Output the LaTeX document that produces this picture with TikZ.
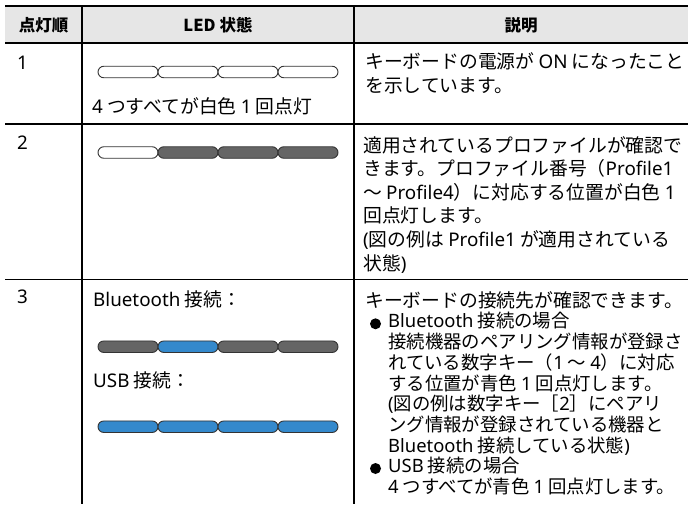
\documentclass[tikz,border=0pt]{standalone}
\usepackage{fontspec}
\setmainfont{Noto Sans CJK JP}
\newfontfamily\latfont{Noto Sans}
\newcommand\la[1]{{\latfont #1}}
\definecolor{headgray}{HTML}{E6E6E6}
\definecolor{ledgray}{HTML}{656565}
\definecolor{ledblue}{HTML}{3489CC}
\definecolor{ledline}{HTML}{333333}
\tikzset{
	rule/.style={line width=1.5pt},
	led/.style={draw=ledline, line width=0.9pt, rounded corners=5.75pt},
	dot/.style={circle, fill=black, inner sep=0pt, minimum size=11pt},
	head/.style={anchor=base, inner sep=0pt, font=\fontsize{16.5}{20}\selectfont\bfseries},
	body/.style={anchor=base west, inner sep=0pt, align=left, font=\fontsize{18.8}{23.6}\selectfont},
	bodyiii/.style={body, font=\fontsize{18.4}{20.74}\selectfont},
}
\begin{document}
\begin{tikzpicture}[x=1pt,y=-1pt]
	\def\XL{5}
	\def\XA{82}
	\def\XB{354}
	\def\XR{688}
	\useasboundingbox (0,0) rectangle (688,504);
	%表头底色
	\fill [headgray] (\XL,6) rectangle (\XR,42.8);
	%绘制横线
	\foreach \y in {6,42.8,124,279.5}
		\draw [rule] (\XL,\y) -- (\XR,\y);
	%绘制竖线
	\foreach \x in {\XA,\XB}
		\draw [rule] (\x,6) -- (\x,504);
	%表头
	\node [head] (h1) at (43.5,31) {点灯順};
	\node [head] (h2) at (218,31) {LED 状態};
	\node [head] (h3) at (521,31) {説明};
	%点灯顺序编号
	\node [body] (n1) at (17,69) {\la{1}};
	\node [body] (n2) at (17,149) {\la{2}};
	\node [body] (n3) at (17,303.7) {\la{3}};
	
	%第1行：LED全部白色（多行文字以末行基线定位）
	\foreach \i/\c in {0/white,1/white,2/white,3/white}
		\draw [led, fill=\c] (98+60*\i,66.25) rectangle ++(60,11.5);
	\node [body] (c1) at (92,113) {\la{4} つすべてが白色 \la{1} 回点灯};
	\node [body] (d1) at (365,92.3) {キーボードの電源が \la{ON} になったこと\\を示しています。};
	
	%第2行：Profile1白色，其余灰色
	\foreach \i/\c in {0/white,1/ledgray,2/ledgray,3/ledgray}
		\draw [led, fill=\c] (98+60*\i,146.75) rectangle ++(60,11.5);
	\node [body] (d2) at (363,270) {適用されているプロファイルが確認で\\きます。プロファイル番号（\la{Profile1}\\〜 \la{Profile4}）に対応する位置が白色 \la{1}\\回点灯します。\\\la{(}図の例は \la{Profile1} が適用されている\\状態\la{)}};
	
	%第3行：Bluetooth与USB
	\node [body] (bt) at (93,306) {\la{Bluetooth} 接続：};
	\foreach \i/\c in {0/ledgray,1/ledblue,2/ledgray,3/ledgray}
		\draw [led, fill=\c] (98+60*\i,340.95) rectangle ++(60,11.5);
	\node [body] (usb) at (93,387) {\la{USB} 接続：};
	\foreach \i/\c in {0/ledblue,1/ledblue,2/ledblue,3/ledblue}
		\draw [led, fill=\c] (98+60*\i,420.95) rectangle ++(60,11.5);
	\node [body] (d3) at (365,307) {キーボードの接続先が確認できます。};
	\node [dot] (b1) at (375.5,323.8) {};
	\node [bodyiii] (d3a) at (388,452.4) {\la{Bluetooth} 接続の場合\\接続機器のペアリング情報が登録さ\\れている数字キー（\la{1} 〜 \la{4}）に対応\\する位置が青色 \la{1} 回点灯します。\\\la{(}図の例は数字キー［\la{2}］にペアリ\\ング情報が登録されている機器と\\\la{Bluetooth} 接続している状態\la{)}};
	\node [dot] (b2) at (375.5,468.5) {};
	\node [bodyiii] (d3b) at (388,493.6) {\la{USB} 接続の場合\\\la{4} つすべてが青色 \la{1} 回点灯します。};
\end{tikzpicture}
\end{document}
